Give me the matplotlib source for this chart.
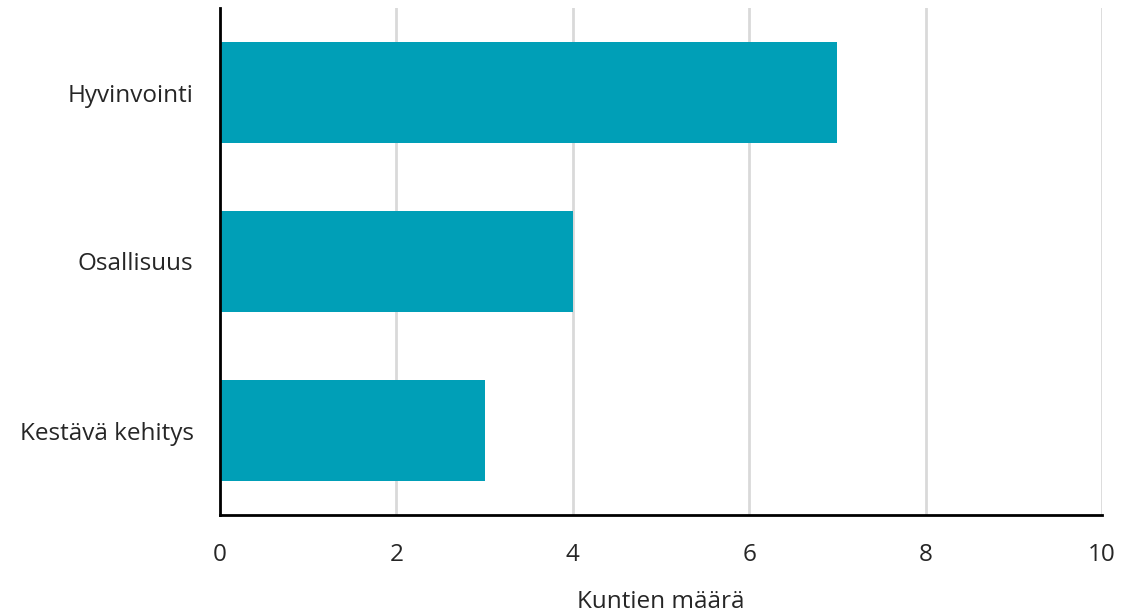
import matplotlib
matplotlib.use("Agg")
import matplotlib.pyplot as plt

# data
categories = ["Hyvinvointi", "Osallisuus", "Kestävä kehitys"]
values = [7, 4, 3]
x_ticks = [0, 2, 4, 6, 8, 10]

plt.rcParams['font.family'] = ['Open Sans', 'DejaVu Sans']

fig = plt.figure(figsize=(11.22, 6.13), dpi=100)
# axes box in pixels: left 220, right 1102, top 8, bottom 515
ax = fig.add_axes([220 / 1122, 1 - 515 / 613, (1102 - 220) / 1122, (515 - 8) / 613])

pos = list(range(len(categories)))
ax.barh(pos, values, height=0.6, color="#009FB7", zorder=3)

ax.set_ylim(len(categories) - 0.5, -0.5)
ax.set_xlim(0, 10)
ax.set_xticks(x_ticks)
ax.set_yticks(pos)
ax.set_yticklabels(categories)

ax.grid(axis="x", color="#d9d9d9", linewidth=2, zorder=0)
ax.grid(axis="y", visible=False)

for s in ["top", "right"]:
    ax.spines[s].set_visible(False)
for s in ["left", "bottom"]:
    ax.spines[s].set_linewidth(2)
    ax.spines[s].set_color("black")
    ax.spines[s].set_zorder(4)

ax.tick_params(axis="both", length=0, labelsize=17.5, colors="#262626")
ax.tick_params(axis="x", pad=20)
ax.tick_params(axis="y", pad=19)
ax.set_xlabel("Kuntien määrä", fontsize=17.5, color="#262626", labelpad=17)

fig.savefig("out.png", dpi=100)
